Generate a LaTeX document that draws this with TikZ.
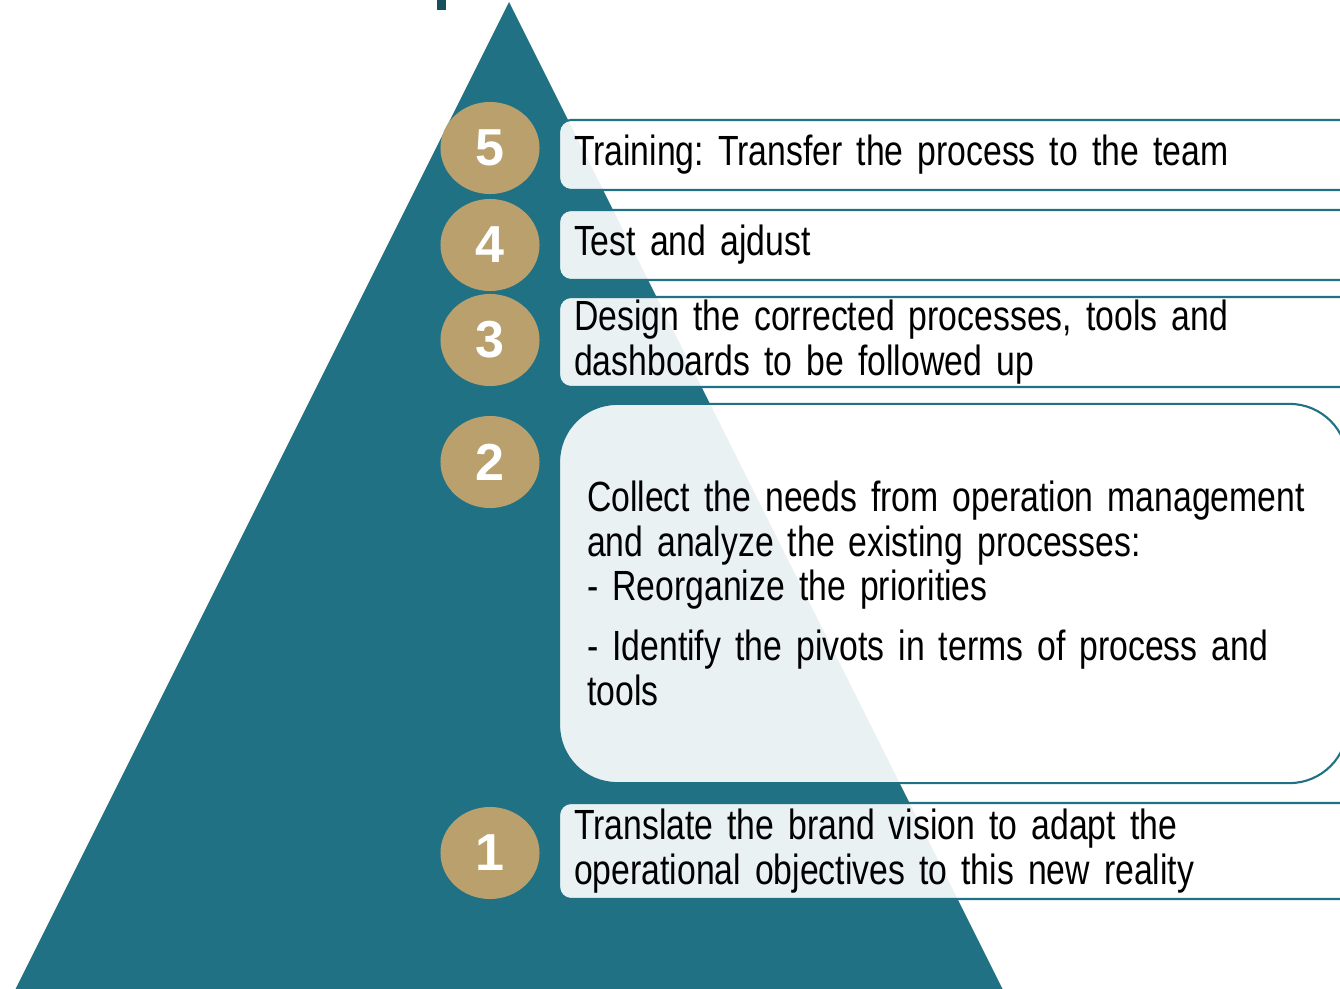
\documentclass[tikz,border=0pt]{standalone}
\usepackage{fontspec}
\setmainfont{Liberation Sans}[FakeStretch=0.80]
\newfontfamily\numfont{Liberation Sans}
\usetikzlibrary{shapes.geometric}
\usetikzlibrary{positioning}
\definecolor{pyrteal}{RGB}{31,113,131}
\definecolor{pyrdark}{RGB}{22,80,92}
\definecolor{pyrgold}{RGB}{185,160,108}
\newcommand{\stepfont}{\fontsize{12}{12.6}\selectfont\frenchspacing\hyphenpenalty10000\relax}

\begin{document}
\begin{tikzpicture}[x=0.01cm, y=-0.01cm,
  numdisc/.style={ellipse, fill=pyrgold, minimum width=0.99cm, minimum height=0.92cm,
    inner sep=0pt, text=white, font=\numfont\fontsize{14.8}{15}\selectfont\bfseries},
  stepbox/.style={draw=pyrteal, line width=0.6pt, fill=white, fill opacity=0.9, text opacity=1,
    rounded corners=0.12cm, anchor=west, align=left, inner xsep=0.15cm, inner ysep=0pt,
    text width=7.7cm, font=\stepfont}]

\useasboundingbox (0,0) rectangle (1340,988);
\clip (0,0) rectangle (1340,988);

%---------------------------------------
% Pyramid
%---------------------------------------
\fill[pyrteal] (509,2) -- (1004,992) -- (14,992) -- cycle;
\fill[pyrdark] (437,0) rectangle (446,10);

%---------------------------------------
% Step numbers
%---------------------------------------
\node[numdisc] (n5) at (490,148) {5};
\node[numdisc] (n4) at (490,245) {4};
\node[numdisc] (n3) at (490,340) {3};
\node[numdisc] (n2) at (490,462) {2};
\node[numdisc] (n1) at (490,853) {1};

%---------------------------------------
% Step boxes
%---------------------------------------
\node[stepbox, minimum height=0.70cm] (s5) at (558,155)
  {Training: Transfer the process to the team};
\node[stepbox, minimum height=0.70cm] (s4) at (558,245)
  {Test and ajdust};
\node[stepbox, minimum height=0.90cm] (s3) at (558,342)
  {Design the corrected processes, tools and\\dashboards to be followed up};
\node[stepbox, minimum height=3.79cm, rounded corners=0.58cm, inner xsep=0.28cm,
      text width=7.32cm] (s2) at (558,593.5)
  {Collect the needs from operation management\\
   and analyze the existing processes:\\
   - Reorganize the priorities\\[0.16cm]
   - Identify the pivots in terms of process and\\
   tools};
\node[stepbox, minimum height=0.96cm] (s1) at (558,851)
  {Translate the brand vision to adapt the\\operational objectives to this new reality};

\end{tikzpicture}
\end{document}
